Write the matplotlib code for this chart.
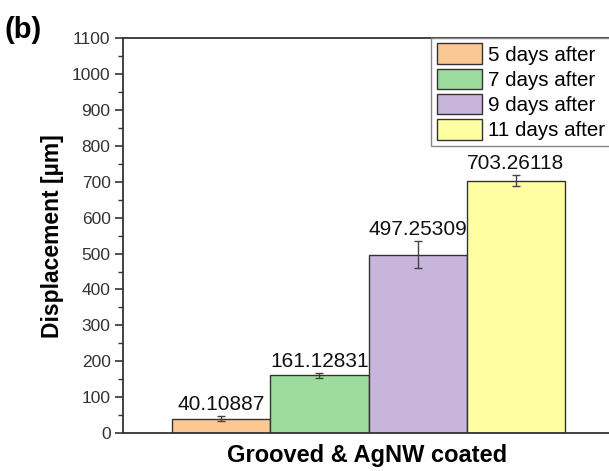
import matplotlib
matplotlib.use("Agg")
import matplotlib.pyplot as plt
from matplotlib.ticker import MultipleLocator

plt.rcParams['font.family'] = ['Liberation Sans', 'DejaVu Sans']

series = ["5 days after", "7 days after", "9 days after", "11 days after"]
values = [40.10887, 161.12831, 497.25309, 703.26118]
errors = [7, 7, 38, 15]
labels = ["40.10887", "161.12831", "497.25309", "703.26118"]
colors = ["#FAC993", "#9EDC9E", "#C7B5DB", "#FFFFA2"]
category = "Grooved & AgNW coated"

fig = plt.figure(figsize=(6.09, 4.71), dpi=100)
ax = fig.add_axes([0.202, 0.0807, 0.80, 0.838])

offsets = [-1.5, -0.5, 0.5, 1.5]
for off, v, e, lab, c, name in zip(offsets, values, errors, labels, colors, series):
    ax.bar(off, v, width=1.0, color=c, edgecolor="#333333", linewidth=1.0, label=name)
    ax.errorbar(off, v, yerr=e, fmt="none", ecolor="#444444", elinewidth=1.0, capsize=3, capthick=1.0)
    ax.text(off, v + e + 5, lab, ha="center", va="bottom", fontsize=15, color="#111111")

ax.set_xlim(-2.5, 2.46)
ax.set_ylim(0, 1100)
ax.yaxis.set_major_locator(MultipleLocator(100))
ax.yaxis.set_minor_locator(MultipleLocator(50))
ax.set_xticks([])
ax.tick_params(axis="y", which="major", direction="out", length=6, width=1.2, labelsize=12.5,
               colors="#333333", pad=3)
ax.tick_params(axis="y", which="minor", direction="out", length=3.5, width=1.0, colors="#333333")
for s in ["left", "bottom", "top"]:
    ax.spines[s].set_linewidth(1.3)
    ax.spines[s].set_color("#333333")
ax.spines["right"].set_visible(False)

ax.set_ylabel("Displacement [µm]", fontsize=16.5, fontweight="bold", labelpad=6)
ax.set_xlabel(category, fontsize=17, fontweight="bold", labelpad=8)

leg = ax.legend(loc="upper right", bbox_to_anchor=(1.0, 1.0), fontsize=14.8, frameon=True,
                fancybox=False, edgecolor="#888888", framealpha=1,
                handlelength=2.2, handleheight=1.15, handletextpad=0.3,
                labelspacing=0.2, borderpad=0.25, borderaxespad=0.0)
leg.get_frame().set_linewidth(1.0)

fig.text(0.008, 0.965, "(b)", fontsize=21, fontweight="bold", ha="left", va="top")

fig.savefig("out.png", dpi=100)
